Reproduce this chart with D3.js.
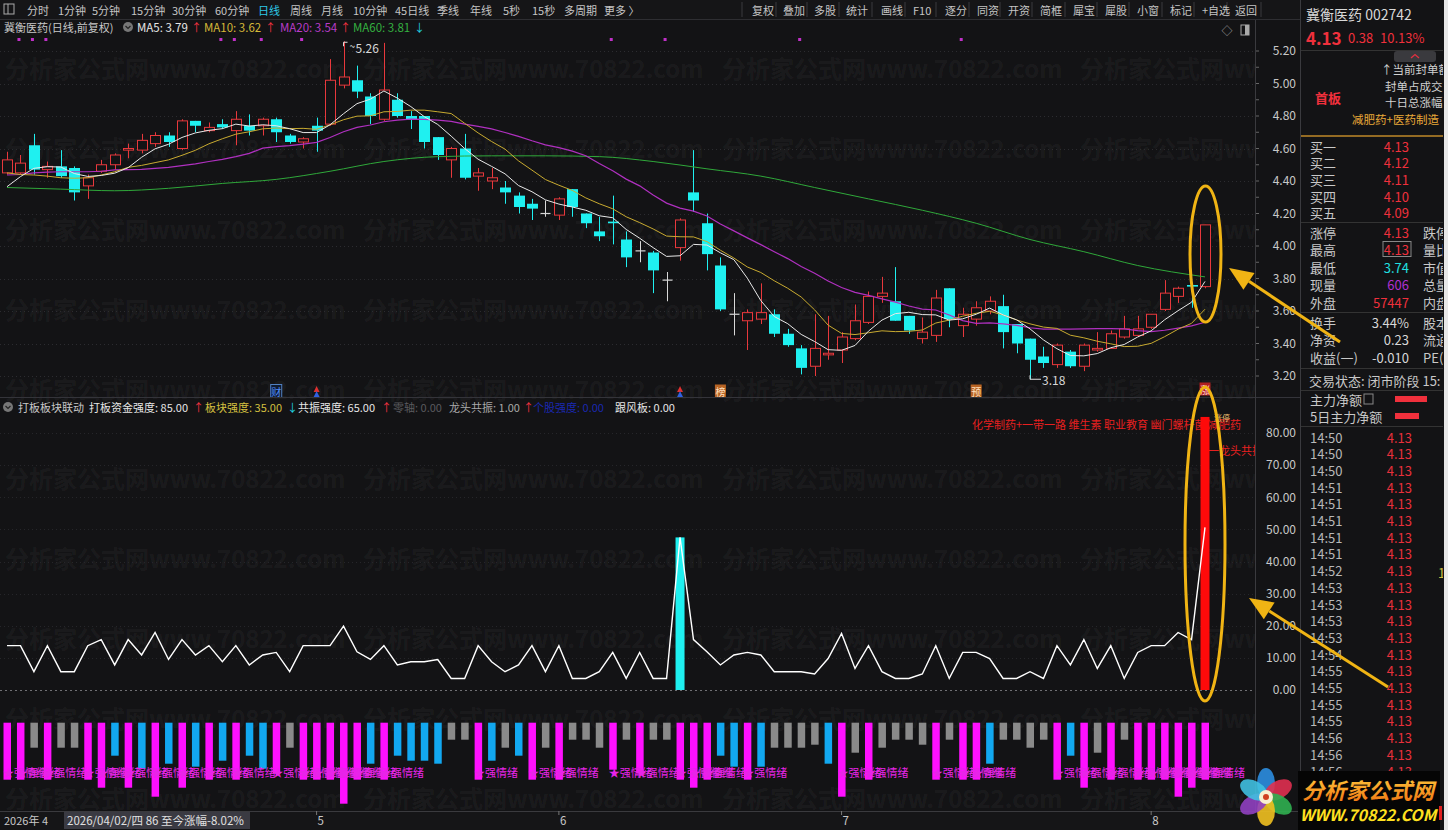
<!DOCTYPE html>
<html><head><meta charset="utf-8">
<script src="https://cdn.jsdelivr.net/npm/d3@7/dist/d3.min.js"></script>
<style>
html,body{margin:0;padding:0;background:#131315;overflow:hidden}
svg{display:block}
</style></head><body>
<svg id="chart" width="1448" height="830"></svg>
<script>
// ---------------- DATA ----------------
const opens  = [4.45,4.45,4.62,4.47,4.49,4.48,4.37,4.46,4.50,4.59, 4.59,4.63,4.68,4.60,4.77,4.71,4.75,4.71,4.74,4.74,
                4.78,4.68,4.64,4.74,4.75,4.99,5.02,4.92,4.78,4.90, 4.80,4.80,4.67,4.53,4.60,4.43,4.40,4.36,4.31,4.26,
                4.20,4.19,4.35,4.20,4.09,4.15,4.04,3.97,3.96,3.79, 3.99,4.33,4.14,3.88,3.58,3.54,3.55,3.58,3.46,3.37,
                3.26,3.33,3.36,3.43,3.53,3.69,3.66,3.57,3.43,3.45, 3.74,3.51,3.55,3.60,3.63,3.52,3.43,3.32,3.27,3.35,
                3.26,3.36,3.37,3.44,3.45,3.50,3.61,3.69,3.76,3.75];
const highs  = [4.58,4.56,4.69,4.52,4.59,4.49,4.44,4.53,4.57,4.63, 4.69,4.70,4.70,4.78,4.77,4.76,4.78,4.83,4.81,4.79,
                4.79,4.69,4.67,4.79,5.15,5.26,5.11,4.94,5.25,4.94, 4.83,4.80,4.67,4.61,4.69,4.48,4.48,4.40,4.33,4.29,
                4.28,4.30,4.35,4.20,4.18,4.31,4.09,4.03,3.97,3.84, 4.17,4.59,4.20,3.93,3.71,3.61,3.77,3.61,3.49,3.39,
                3.58,3.57,3.47,3.64,3.72,3.81,3.87,3.57,3.56,3.73, 3.74,3.62,3.66,3.69,3.70,3.52,3.43,3.38,3.40,3.36,
                3.40,3.47,3.48,3.57,3.57,3.58,3.79,3.75,3.76,4.13];
const lows   = [4.44,4.44,4.44,4.42,4.42,4.28,4.29,4.45,4.47,4.54, 4.57,4.61,4.61,4.59,4.70,4.70,4.72,4.62,4.68,4.68,
                4.64,4.63,4.60,4.58,4.74,4.97,4.91,4.75,4.77,4.79, 4.72,4.60,4.53,4.42,4.41,4.34,4.35,4.26,4.20,4.16,
                4.18,4.16,4.18,4.11,4.03,4.01,3.87,3.90,3.71,3.66, 3.91,4.21,3.85,3.60,3.45,3.36,3.52,3.44,3.38,3.21,
                3.20,3.30,3.28,3.42,3.52,3.65,3.54,3.46,3.40,3.41, 3.50,3.44,3.51,3.58,3.37,3.34,3.18,3.25,3.25,3.25,
                3.23,3.35,3.37,3.43,3.44,3.49,3.60,3.65,3.62,3.74];
const closes = [4.53,4.51,4.47,4.49,4.43,4.33,4.42,4.50,4.56,4.60, 4.65,4.68,4.64,4.77,4.74,4.73,4.73,4.78,4.71,4.78,
                4.70,4.64,4.66,4.71,5.02,5.04,4.95,4.80,4.96,4.80, 4.78,4.64,4.56,4.60,4.42,4.45,4.42,4.33,4.24,4.23,
                4.20,4.29,4.24,4.14,4.06,4.14,3.93,3.97,3.85,3.79, 4.16,4.28,3.95,3.61,3.58,3.59,3.59,3.46,3.39,3.25,
                3.37,3.34,3.44,3.54,3.69,3.71,3.54,3.48,3.47,3.68, 3.55,3.58,3.62,3.66,3.47,3.40,3.30,3.28,3.39,3.26,
                3.39,3.37,3.46,3.49,3.49,3.58,3.71,3.74,3.75,4.13];
// moving-average values for bars before a full window exists
const ma5Warm  = [4.365,4.427,4.478,4.488];
const ma10Warm = [4.45,4.44,4.437,4.43,4.42,4.417,4.42,4.437,4.457];
const ma20Warm = [4.437,4.44,4.45,4.455,4.457,4.457,4.457,4.46,4.468,4.47,4.472,4.478,4.484,4.495,4.505,4.52,4.533,4.55,4.57];
// MA60
const ma60Idx = [0,4,8,12,16,20,24,28,32,36,40,44,48,52,56,60,64,68,72,76,80,84,89];
const ma60Val = [4.36,4.35,4.34,4.355,4.385,4.41,4.46,4.52,4.55,4.555,4.555,4.55,4.52,4.475,4.43,4.36,4.29,4.22,4.14,4.04,3.965,3.88,3.81];
const priceTicks = [3.20,3.40,3.60,3.80,4.00,4.20,4.40,4.60,4.80,5.00,5.20];

// indicator panel
const lineVals = [13.8,13.8,5.7,13.8,5.7,5.7,13.8,15.7,7.8,15.7, 10.9,17.9,9.5,15.7,10.9,13.8,8.8,13.8,7.8,10.9,
                  11.7,5.7,13.8,13.8,13.8,19.9,11.9,9.5,13.8,7.8, 8.8,8.8,9.5,3.6,3.6,13.8,8.8,5.7,7.8,13.8,
                  5.7,13.8,3.6,3.6,5.7,11.7,3.6,11.7,3.6,3.6, 47.5,15.7,11.9,7.8,10.9,11.7,10.9,5.7,5.7,5.7,
                  5.0,9.8,17.6,6.7,13.8,5.7,3.6,3.6,5.0,13.8, 3.6,11.7,11.7,9.8,3.6,3.6,5.7,3.6,13.8,7.8,
                  15.7,6.7,13.8,3.6,11.7,13.8,13.8,17.9,15.7,50.6];
const cyanBarIdx = [50], cyanBarVal = [47.5];
const redBarIdx  = [89], redBarVal  = [85];
const indTicks = [0,10,20,30,40,50,60,70,80];
// emotion bars: m = magenta (强情绪), g = grey, b = blue
const emoType = ['m','m','g','m','g','g','m','m','b','m', 'b','m','b','m','b','m','b','m','b','b',
                 'm','g','m','m','m','m','m','b','m','b', 'b','b','b','g','g','m','b','g','b','m',
                 'g','m','g','g','g','m','g','m','g','g', 'm','m','m','b','b','m','b','g','g','g',
                 'g','b','m','g','m','g','g','g','g','m', 'g','m','m','b','g','g','g','g','m','b',
                 'm','g','m','g','m','m','m','m','m','m'];
const emoVal  = [5.7,5.7,2.5,5.7,2.5,2.5,5.7,6.5,3.3,6.5, 4.6,7.4,4.1,6.5,4.4,5.7,3.8,5.7,3.3,4.6,
                 5.1,2.5,5.7,5.7,5.7,8.1,5.7,4.1,5.7,3.3, 3.8,3.8,4.1,1.7,1.7,5.7,3.8,2.5,3.3,5.7,
                 2.5,5.7,1.7,1.7,2.5,4.7,1.7,5.1,1.7,1.7, 5.7,6.5,5.7,3.3,4.4,5.7,4.4,2.5,2.5,2.5,
                 2.2,4.1,7.4,3.0,5.7,2.5,1.7,1.7,2.2,5.7, 1.7,5.7,5.7,4.1,1.7,1.7,2.5,1.7,5.7,3.3,
                 6.5,3.0,5.7,1.7,5.7,5.7,5.7,7.4,6.5,5.7];
// markers
const dotIdx = [1,2,3,16,17,19,22,45,49,59,71];
const monthIdx = [23,41,62,85], monthLbl = ['5','6','7','8'];

// right panel texts
const bidLbl = ['买一','买二','买三','买四','买五'], bidVal = ['4.13','4.12','4.11','4.10','4.09'];
const tickTimes = ['14:50','14:50','14:50','14:51','14:51','14:51','14:51','14:51','14:52','14:53','14:53','14:53','14:53','14:54','14:55','14:55','14:55','14:55','14:56','14:56','14:56'];
const tickPrice = '4.13';

// ---------------- SETUP ----------------
const FONT = "'Noto Sans CJK SC','Noto Sans',sans-serif";
const svg = d3.select('#chart').attr('font-family', FONT);
const BG = '#131315';
svg.append('rect').attr('width',1448).attr('height',830).attr('fill',BG);

function T(g,x,y,s,o){o=o||{};return g.append('text').attr('x',x).attr('y',y).text(s)
  .attr('fill',o.c||'#c8c8c8').attr('font-size',o.s||12).attr('text-anchor',o.a||'start')
  .attr('font-weight',o.w||'normal').attr('font-style',o.i||'normal').attr('dominant-baseline','central');}

const X  = d3.scaleLinear().domain([0,89]).range([7,1205]);
const Y  = d3.scaleLinear().domain([3.2,5.2]).range([376,51]);
const YI = d3.scaleLinear().domain([0,80]).range([690,433]);
const YE = d3.scaleLinear().domain([0,10]).range([722.7,822.7]);

// clip for chart area
svg.append('clipPath').attr('id','cp').append('rect').attr('x',0).attr('y',20).attr('width',1255).attr('height',790);

// watermark
const wm = svg.append('g').attr('clip-path','url(#cp)');
[67,147,228,308,388,477,557,637,717,797].forEach(y=>{
  [5,363,722,1080].forEach(x=>T(wm,x,y,'分析家公式网www.70822.com',{c:'rgba(255,255,255,0.055)',s:24,w:'bold'}));
});

// ---------------- TOOLBAR ----------------
const tb = svg.append('g');
tb.append('rect').attr('x',0).attr('y',0).attr('width',1300).attr('height',19).attr('fill','#151517');
tb.append('rect').attr('x',4).attr('y',4).attr('width',10).attr('height',10).attr('fill','none').attr('stroke','#aaa');
tb.append('line').attr('x1',8).attr('x2',8).attr('y1',4).attr('y2',14).attr('stroke','#aaa');
const leftTabs=['分时','1分钟','5分钟','15分钟','30分钟','60分钟','日线','周线','月线','10分钟','45日线','季线','年线','5秒','15秒','多周期','更多 〉'];
const leftTabX=[27,58,92,131,172,215,258,290,321,353,395,437,470,503,532,564,604];
leftTabs.forEach((s,k)=>T(tb,leftTabX[k],9.5,s,{c:s==='日线'?'#2ec8e8':'#c4c4c4',s:11}));
const rightTabs=['复权','叠加','多股','统计','画线','F10','逐分','同资','开资','简框','犀宝','犀股','小窗','标记','+自选','返回'];
const rightTabX=[752,783,814,846,881,913,945,977,1008,1040,1073,1105,1137,1170,1202,1235];
const sepX=[742,776,807,839,872,905,936,969,1000,1032,1065,1097,1129,1162,1194,1227,1261];
sepX.forEach(x=>tb.append('line').attr('x1',x).attr('x2',x).attr('y1',2).attr('y2',17).attr('stroke','#3a3a3e'));
rightTabs.forEach((s,k)=>T(tb,rightTabX[k],9.5,s,{c:'#c4c4c4',s:11}));
svg.append('line').attr('x1',0).attr('x2',1300).attr('y1',19.5).attr('y2',19.5).attr('stroke','#2e2e32');

// ---------------- MAIN PANEL ----------------
const mp = svg.append('g');
priceTicks.forEach(p=>mp.append('line').attr('x1',0).attr('x2',1255).attr('y1',Math.round(Y(p))+0.5).attr('y2',Math.round(Y(p))+0.5)
  .attr('stroke','#2c2c30').attr('stroke-dasharray','1,3'));
// legend row
T(mp,4,27,'冀衡医药(日线,前复权)',{c:'#c8c8c8',s:11});
mp.append('circle').attr('cx',128).attr('cy',27).attr('r',5).attr('fill','#777');
mp.append('path').attr('d','M125.5,26 L128,28.5 L130.5,26').attr('stroke','#222').attr('fill','none').attr('stroke-width',1.2);
T(mp,137,27,'MA5: 3.79',{c:'#e6e6e6',s:11.5}); T(mp,191,27,'↑',{c:'#f03040',s:11});
T(mp,204,27,'MA10: 3.62',{c:'#d4b838',s:11.5}); T(mp,265,27,'↑',{c:'#f03040',s:11});
T(mp,280,27,'MA20: 3.54',{c:'#b83cc8',s:11.5}); T(mp,340,27,'↑',{c:'#f03040',s:11});
T(mp,353,27,'MA60: 3.81',{c:'#34b040',s:11.5}); T(mp,414,27,'↓',{c:'#20d0e0',s:11});
T(mp,1227,30,'◇',{c:'#aaa',s:11,a:'middle'});
mp.append('rect').attr('x',1241).attr('y',25).attr('width',8).attr('height',10).attr('fill','none').attr('stroke','#aaa');
mp.append('rect').attr('x',1245).attr('y',25).attr('width',4).attr('height',10).attr('fill','#aaa');
// purple dots
dotIdx.forEach(i=>mp.append('rect').attr('x',X(i)-3).attr('y',38).attr('width',3).attr('height',3).attr('fill','#c030c8'));

// candles
const cg = mp.append('g').attr('clip-path','url(#cp)');
closes.forEach((c,i)=>{
  const o=opens[i], x=Math.round(X(i))+0.5;
  const col = c>o ? '#e8383c' : (c<o ? '#1ff0f0' : '#d8d8d8');
  cg.append('line').attr('x1',x).attr('x2',x).attr('y1',Y(highs[i])).attr('y2',Y(lows[i])).attr('stroke',col).attr('stroke-width',1);
  const top=Y(Math.max(o,c)), bot=Y(Math.min(o,c));
  if(c>o){
    cg.append('rect').attr('x',x-5).attr('y',top).attr('width',10).attr('height',Math.max(1,bot-top)).attr('fill',BG).attr('stroke',col).attr('stroke-width',1);
  } else if(c<o){
    cg.append('rect').attr('x',x-5.5).attr('y',top).attr('width',11).attr('height',Math.max(1.5,bot-top)).attr('fill',col);
  } else {
    cg.append('line').attr('x1',x-5).attr('x2',x+5).attr('y1',top).attr('y2',top).attr('stroke',col).attr('stroke-width',1.2);
  }
});
// moving averages
function ma(n,warm){return closes.map((c,i)=> i<n-1 ? warm[i] : d3.mean(closes.slice(i-n+1,i+1)));}
const ma5=ma(5,ma5Warm), ma10=ma(10,ma10Warm), ma20=ma(20,ma20Warm);
const lineGen=d3.line().x((d,i)=>X(i)).y(d=>Y(d));
cg.append('path').attr('d',d3.line().x((d,k)=>X(ma60Idx[k])).y(d=>Y(d)).curve(d3.curveMonotoneX)(ma60Val)).attr('fill','none').attr('stroke','#2fa83a').attr('stroke-width',1);
cg.append('path').attr('d',lineGen(ma20)).attr('fill','none').attr('stroke','#b030c0').attr('stroke-width',1.2);
cg.append('path').attr('d',lineGen(ma10)).attr('fill','none').attr('stroke','#c8aa30').attr('stroke-width',1);
cg.append('path').attr('d',lineGen(ma5)).attr('fill','none').attr('stroke','#e8e8e8').attr('stroke-width',1);
// hi/lo annotations
const hiI = d3.maxIndex(highs), loI = d3.minIndex(lows);
mp.append('path').attr('d',`M${X(hiI)},${Y(highs[hiI])+5} l0,-4 l4,0`).attr('stroke','#ddd').attr('fill','none');
T(mp,X(hiI)+6,Y(highs[hiI])+4,'~',{c:'#ddd',s:10});
T(mp,X(hiI)+12,Y(highs[hiI])+6,d3.format('.2f')(highs[hiI]),{c:'#d8d8d8',s:12});
mp.append('path').attr('d',`M${X(loI)},${Y(lows[loI])-4} L${X(loI)},${Y(lows[loI])} L${X(loI)+11},${Y(lows[loI])}`).attr('stroke','#ddd').attr('fill','none');
T(mp,X(loI)+12,Y(lows[loI]),d3.format('.2f')(lows[loI]),{c:'#d8d8d8',s:12});
// price axis
const pa = svg.append('g').attr('transform','translate(1296,0)')
  .call(d3.axisLeft(Y).tickValues(priceTicks).tickFormat(d3.format('.2f')).tickSize(0).tickPadding(0));
pa.select('.domain').remove();
pa.selectAll('text').attr('fill','#c8c8c8').attr('font-size',12).attr('font-family',FONT);
d3.range(3.2,5.21,0.1).forEach(p=>svg.append('line').attr('x1',1255).attr('x2',1259).attr('y1',Y(p)).attr('y2',Y(p)).attr('stroke','#666'));

// markers row
const mk = svg.append('g');
function boxMark(i,ch,bg,fg,y){const x=X(i);
  mk.append('rect').attr('x',x-5.5).attr('y',y-6.5).attr('width',11).attr('height',13).attr('fill',bg).attr('stroke',fg==='#5090ff'?'#5080c0':'none');
  T(mk,x,y,ch,{c:fg,s:10,a:'middle'});}
boxMark(20,'财','#0e1a30','#5090ff',391);
boxMark(53,'榜','#b86424','#ffe0c0',391);
boxMark(72,'预','#b86424','#ffe0c0',391);
boxMark(89,'涨','#b02020','#ffd0d0',389);
[23,50].forEach(i=>{const x=X(i);
  mk.append('path').attr('d',`M${x-3},${392} L${x},${386} L${x+3},${392}Z`).attr('fill','#e03030');
  mk.append('path').attr('d',`M${x-3},${397} L${x},${391} L${x+3},${397}Z`).attr('fill','#3060e0');});

svg.append('line').attr('x1',0).attr('x2',1300).attr('y1',397.5).attr('y2',397.5).attr('stroke','#34343a');

// ---------------- INDICATOR PANEL ----------------
const ip = svg.append('g');
indTicks.forEach(v=>ip.append('line').attr('x1',0).attr('x2',1255).attr('y1',Math.round(YI(v))+0.5).attr('y2',Math.round(YI(v))+0.5)
  .attr('stroke',v===0?'#707074':'#26262a').attr('stroke-dasharray',v===0?'2,3':'1,3'));
// legend
ip.append('circle').attr('cx',8).attr('cy',407).attr('r',5).attr('fill','#777');
ip.append('path').attr('d','M5.5,406 L8,408.5 L10.5,406').attr('stroke','#222').attr('fill','none').attr('stroke-width',1.2);
T(ip,18,407,'打板板块联动',{c:'#c8c8c8',s:11});
T(ip,89,407,'打板资金强度: 85.00',{c:'#e6e6e6',s:11}); T(ip,193,407,'↑',{c:'#f03040',s:11});
T(ip,205,407,'板块强度: 35.00',{c:'#d4c040',s:11}); T(ip,287,407,'↓',{c:'#20d0e0',s:11});
T(ip,298,407,'共振强度: 65.00',{c:'#e6e6e6',s:11}); T(ip,381,407,'↑',{c:'#f03040',s:11});
T(ip,393,407,'零轴: 0.00',{c:'#5a5a5e',s:11});
T(ip,449,407,'龙头共振: 1.00',{c:'#a8a8a8',s:11}); T(ip,523,407,'↑',{c:'#f03040',s:11});
T(ip,533,407,'个股强度: 0.00',{c:'#1a28b0',s:11});
T(ip,615,407,'跟风板: 0.00',{c:'#e6e6e6',s:11});
// red concept labels
T(ip,972,424,'化学制药+一带一路 维生素 职业教育 幽门螺杆菌 减肥药',{c:'#e82020',s:11});
const icg = ip.append('g').attr('clip-path','url(#cp)');
T(icg,1208,450,'一龙头共振',{c:'#e82020',s:11});
// bars
cyanBarIdx.forEach((i,k)=>icg.append('rect').attr('x',X(i)-4.5).attr('y',YI(cyanBarVal[k])).attr('width',9).attr('height',YI(0)-YI(cyanBarVal[k])).attr('fill','#1ff0f0'));
redBarIdx.forEach((i,k)=>icg.append('rect').attr('x',X(i)-4.5).attr('y',YI(redBarVal[k])).attr('width',9).attr('height',YI(0)-YI(redBarVal[k])).attr('fill','#ff0a0a'));
T(icg,1222,417,'涨停',{c:'#f0c070',s:8,a:'middle'});
icg.append('path').attr('d',d3.line().x((d,i)=>X(i)).y(d=>YI(d))(lineVals)).attr('fill','none').attr('stroke','#ffffff').attr('stroke-width',1.4);
// indicator axis
const ia = svg.append('g').attr('transform','translate(1296,0)')
  .call(d3.axisLeft(YI).tickValues(indTicks).tickFormat(d3.format('.2f')).tickSize(0).tickPadding(0));
ia.select('.domain').remove();
ia.selectAll('text').attr('fill','#c8c8c8').attr('font-size',12).attr('font-family',FONT);
// emotion bars
const colMap={m:'#ff10ff',g:'#8a8a8a',b:'#12a8f0'};
emoVal.forEach((v,i)=>icg.append('rect').attr('x',X(i)-3.5).attr('y',YE(0)).attr('width',7.5).attr('height',YE(v)-YE(0)).attr('fill',colMap[emoType[i]]));
emoType.forEach((t,i)=>{ if(t==='m') T(icg,X(i)-4,772,'★强情绪',{c:'#e824e8',s:11}); });

// axis separators
svg.append('line').attr('x1',1255.5).attr('x2',1255.5).attr('y1',20).attr('y2',811).attr('stroke','#3a3a3e');
svg.append('line').attr('x1',1300.5).attr('x2',1300.5).attr('y1',0).attr('y2',830).attr('stroke','#3a3a3e');

// ---------------- DATE AXIS ----------------
const da = svg.append('g');
da.append('rect').attr('x',0).attr('y',811).attr('width',1300).attr('height',19).attr('fill','#151517');
da.append('line').attr('x1',0).attr('x2',1300).attr('y1',811.5).attr('y2',811.5).attr('stroke','#3a3a3e');
T(da,4,820,'2026年 4',{c:'#c8c8c8',s:11});
da.append('rect').attr('x',64).attr('y',812).attr('width',186).attr('height',17).attr('fill','#3a3a42');
T(da,67,820,'2026/04/02/四 86 至今涨幅-8.02%',{c:'#e0e0e0',s:11.5});
monthIdx.forEach((i,k)=>{da.append('line').attr('x1',X(i)).attr('x2',X(i)).attr('y1',811).attr('y2',815).attr('stroke','#777');
  T(da,X(i)+1,820,monthLbl[k],{c:'#c8c8c8',s:11.5});});

// ---------------- RIGHT PANEL ----------------
const rp = svg.append('g');
rp.append('clipPath').attr('id','rcp').append('rect').attr('x',1301).attr('y',0).attr('width',142).attr('height',830);
const r = rp.append('g').attr('clip-path','url(#rcp)');
T(r,1306,14,'冀衡医药 002742',{c:'#d8d8d8',s:14});
T(r,1306,37,'4.13',{c:'#f0303c',s:17,w:'bold'});
T(r,1348,37,'0.38',{c:'#f0303c',s:13}); T(r,1380,37,'10.13%',{c:'#f0303c',s:13});
r.append('line').attr('x1',1301).attr('x2',1443).attr('y1',50.5).attr('y2',50.5).attr('stroke','#333');
r.append('rect').attr('x',1394).attr('y',51).attr('width',42).attr('height',11).attr('rx',3).attr('fill','#3a3a3e');
r.append('path').attr('d','M1411,58 L1415,54.5 L1419,58').attr('stroke','#e03040').attr('fill','none').attr('stroke-width',1.3);
T(r,1381,69,'↑当前封单额',{c:'#d0d0d0',s:11.5});
T(r,1385,86,'封单占成交',{c:'#d0d0d0',s:11.5});
T(r,1385,102,'十日总涨幅',{c:'#d0d0d0',s:11.5});
T(r,1352,119,'减肥药+医药制造',{c:'#e8a838',s:11.5});
T(r,1315,97,'首板',{c:'#f0303c',s:13,w:'bold'});
r.append('line').attr('x1',1301).attr('x2',1443).attr('y1',136).attr('y2',136).attr('stroke','#c08a28').attr('stroke-width',1.5);
bidLbl.forEach((s,k)=>{const y=146+k*16.7; T(r,1310,y,s,{c:'#c8c8c8',s:13}); T(r,1409,y,bidVal[k],{c:'#f0303c',s:13,a:'end'});});
r.append('line').attr('x1',1301).attr('x2',1443).attr('y1',222.5).attr('y2',222.5).attr('stroke','#333');
const infoL=['涨停','最高','最低','现量','外盘'], infoV=['4.13','4.13','3.74','606','57447'],
      infoC=['#f0303c','#f0303c','#20e0e0','#b030d0','#f0303c'], infoR=['跌停','量比','市值','总量','内盘'];
infoL.forEach((s,k)=>{const y=232+k*17.5; T(r,1310,y,s,{c:'#c8c8c8',s:13}); T(r,1409,y,infoV[k],{c:infoC[k],s:13,a:'end'}); T(r,1423,y,infoR[k],{c:'#c8c8c8',s:13});});
r.append('rect').attr('x',1383).attr('y',241.5).attr('width',28).attr('height',15).attr('fill','none').attr('stroke','#888');
r.append('line').attr('x1',1301).attr('x2',1443).attr('y1',312.5).attr('y2',312.5).attr('stroke','#333');
const finL=['换手','净资','收益(一)'], finV=['3.44%','0.23','-0.010'], finR=['股本','流通','PE('];
finL.forEach((s,k)=>{const y=322+k*17.5; T(r,1310,y,s,{c:'#c8c8c8',s:13}); T(r,1409,y,finV[k],{c:'#d8d8d8',s:13,a:'end'}); T(r,1423,y,finR[k],{c:'#c8c8c8',s:13});});
r.append('line').attr('x1',1301).attr('x2',1443).attr('y1',368.5).attr('y2',368.5).attr('stroke','#333');
T(r,1309,380,'交易状态: 闭市阶段 15:',{c:'#c8c8c8',s:13});
r.append('line').attr('x1',1301).attr('x2',1443).attr('y1',390.5).attr('y2',390.5).attr('stroke','#333');
T(r,1310,399,'主力净额',{c:'#c8c8c8',s:13});
r.append('rect').attr('x',1364).attr('y',394).attr('width',9).attr('height',10).attr('fill','none').attr('stroke','#888');
r.append('rect').attr('x',1395).attr('y',396).attr('width',32).attr('height',6).attr('fill','#f0303c');
T(r,1310,416,'5日主力净额',{c:'#c8c8c8',s:13});
r.append('rect').attr('x',1395).attr('y',413).attr('width',24).attr('height',6).attr('fill','#f0303c');
r.append('line').attr('x1',1301).attr('x2',1443).attr('y1',426.5).attr('y2',426.5).attr('stroke','#333');
tickTimes.forEach((t,k)=>{const y=437+k*16.7; T(r,1310,y,t,{c:'#b8b8b8',s:13}); T(r,1412,y,tickPrice,{c:'#e8303c',s:13,a:'end'});});
T(r,1438,572,'1',{c:'#d0c040',s:13});
r.append('line').attr('x1',1443.5).attr('x2',1443.5).attr('y1',0).attr('y2',830).attr('stroke','#3a3a3e');
svg.append('rect').attr('x',1444).attr('y',0).attr('width',4).attr('height',830).attr('fill','#e8e8e8');

// ---------------- LOGO ----------------
const lg = svg.append('g');
lg.append('rect').attr('x',1298).attr('y',771).attr('width',142).attr('height',59).attr('fill','#050505');
const grad = svg.append('defs').append('linearGradient').attr('id','lgGrad').attr('x1',0).attr('x2',0).attr('y1',0).attr('y2',1);
grad.append('stop').attr('offset','0').attr('stop-color','#ffd040');
grad.append('stop').attr('offset','1').attr('stop-color','#f07010');
T(lg,1368,789,'分析家公式网',{c:'url(#lgGrad)',s:22,w:'bold',i:'italic',a:'middle'});
T(lg,1368,814,'WWW.70822.COM',{c:'#ffe020',s:16,w:'bold',i:'italic',a:'middle'});
lg.append('rect').attr('x',1439).attr('y',806).attr('width',3).attr('height',14).attr('fill','#e02020');
const petals=['#2c8ee0','#e03050','#30b050','#f0c020','#9040c0','#40c0e0'];
petals.forEach((c,k)=>lg.append('ellipse').attr('cx',1266).attr('cy',783).attr('rx',9).attr('ry',15)
  .attr('fill',c).attr('opacity',0.9).attr('transform',`rotate(${k*60},1266,797)`));
lg.append('circle').attr('cx',1266).attr('cy',797).attr('r',7).attr('fill','#f8f0d0');
lg.append('circle').attr('cx',1266).attr('cy',797).attr('r',3).attr('fill','#d04020');

// ---------------- ANNOTATIONS ----------------
const an = svg.append('g').attr('fill','none').attr('stroke','#f0b414').attr('stroke-width',3);
an.append('ellipse').attr('cx',1205.5).attr('cy',254).attr('rx',15.5).attr('ry',68);
an.append('ellipse').attr('cx',1205).attr('cy',544).attr('rx',20).attr('ry',157);
function arrow(x1,y1,x2,y2){
  const a=Math.atan2(y2-y1,x2-x1), L=24, Wd=10;
  const bx=x2-L*Math.cos(a), by=y2-L*Math.sin(a);
  an.append('line').attr('x1',x1).attr('y1',y1).attr('x2',bx).attr('y2',by);
  const px=-Math.sin(a)*Wd, py=Math.cos(a)*Wd;
  svg.append('path').attr('d',`M${x2},${y2} L${bx+px},${by+py} L${bx-px},${by-py}Z`).attr('fill','#f0b414');
}
arrow(1340,342,1229,268);
arrow(1388,687,1249,598);
</script></body></html>
